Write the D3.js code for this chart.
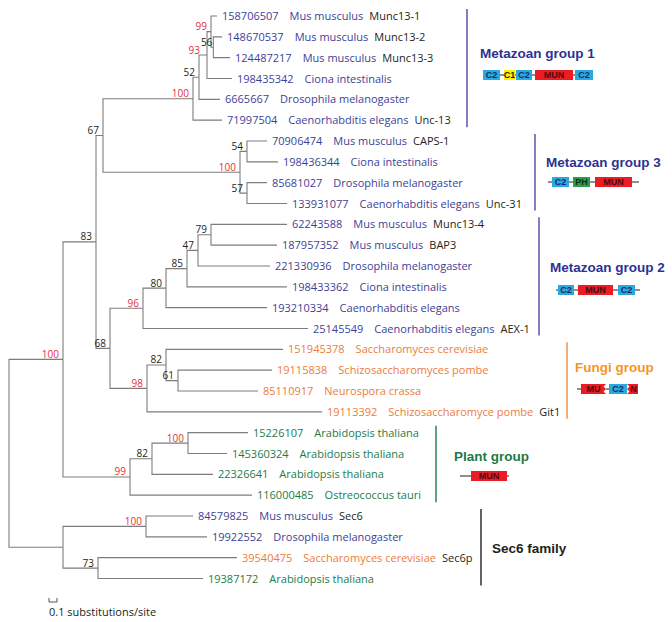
<!DOCTYPE html>
<html><head><meta charset="utf-8">
<script src="https://cdn.jsdelivr.net/npm/d3@7"></script>
<style>body{margin:0;background:#fff} svg{display:block}</style>
</head><body><svg id="chart" width="672" height="622"></svg>
<script>
// ---------------- data ----------------
// internal nodes: id, parent, branch length (substitutions/site), bootstrap support
const internalIds     = ["root","A","S","B","P1","C","D","G1","n52","n93","n99","n56","G3","n54","n57","n96","n80","n85","n47","n79","n98","n82f","n61","n82p","n100p","n100s","n73"];
const internalParents = [null,"root","root","A","A","B","B","C","G1","n52","n93","n99","C","G3","G3","D","n96","n80","n85","n47","D","n98","n82f","P1","n82p","S","S"];
const internalLengths = [0,0.675,0.675,0.4125,0.8375,0.0875,0.175,1.125,0.075,0.1,0.05,0.029,1.7125,0.0875,0.0875,0.4125,0.2875,0.2625,0.1375,0.1625,0.4625,0.2375,0.15,0.275,0.45,1.0375,0.4375];
const internalSupport = [null,100,null,83,99,67,68,100,52,93,99,56,100,54,57,96,80,85,47,79,98,82,61,82,100,100,73];

// leaves (top to bottom)
const leafIds = ["158706507","148670537","124487217","198435342","6665667","71997504","70906474","198436344","85681027","133931077","62243588","187957352","221330936","198433362","193210334","25145549","151945378","19115838","85110917","19113392","15226107","145360324","22326641","116000485","84579825","19922552","39540475","19387172"];
const leafParents = ["n99","n56","n56","n93","n52","G1","n54","n54","n57","n57","n79","n79","n47","n85","n80","n96","n82f","n61","n61","n98","n100p","n100p","n82p","P1","n100s","n100s","n73","n73"];
const leafLengths = [0.075,0.109,0.209,0.3125,0.2625,0.3625,0.25,0.3875,0.25,0.5,0.95,0.825,0.9,1.25,1.2625,2.0625,1.4625,1.175,1.0,2.1875,0.75,0.4875,0.7625,1.525,0.5875,0.7625,1.7375,1.3125];
const leafSpecies = ["Mus musculus","Mus musculus","Mus musculus","Ciona intestinalis","Drosophila melanogaster","Caenorhabditis elegans","Mus musculus","Ciona intestinalis","Drosophila melanogaster","Caenorhabditis elegans","Mus musculus","Mus musculus","Drosophila melanogaster","Ciona intestinalis","Caenorhabditis elegans","Caenorhabditis elegans","Saccharomyces cerevisiae","Schizosaccharomyces pombe","Neurospora crassa","Schizosaccharomyce pombe","Arabidopsis thaliana","Arabidopsis thaliana","Arabidopsis thaliana","Ostreococcus tauri","Mus musculus","Drosophila melanogaster","Saccharomyces cerevisiae","Arabidopsis thaliana"];
const leafGenes = ["Munc13-1","Munc13-2","Munc13-3","","","Unc-13","CAPS-1","","","Unc-31","Munc13-4","BAP3","","","","AEX-1","","","","Git1","","","","","Sec6","","Sec6p",""];
const leafKingdom = ["M","M","M","M","M","M","M","M","M","M","M","M","M","M","M","M","F","F","F","F","P","P","P","P","M","M","F","P"];

// groups (bracket over leaf ranges)
const groupNames = ["Metazoan group 1","Metazoan group 3","Metazoan group 2","Fungi group","Plant group","Sec6 family"];
const groupFirstLeaf = [0,6,10,16,20,24];
const groupLastLeaf  = [5,9,15,19,23,27];
// domain architecture: [domain, length]; "-" = linker
const groupDomains = [
  [["C2",17],["-",4],["C1",11],["-",1],["C2",16],["-",3],["MUN",38],["-",2],["C2",18]],
  [["-",4],["C2",17],["-",4],["PH",17],["-",5],["MUN",37],["-",7]],
  [["-",2],["C2",16],["-",4],["MUN",35],["-",5],["C2",17],["-",5]],
  [["-",4],["MU",25],["-",3],["C2",18],["N",11]],
  [["-",11],["MUN",36],["-",2]],
  []
];
const scaleBarValue = 0.1;
const scaleBarLabel = "0.1 substitutions/site";

// ---------------- layout / style ----------------
const kingdomColor = {M:"#3d3f97", F:"#ee7b3c", P:"#1e7b4a"};
const groupStyle = [
  {bar:"#4b4ba6", title:"#2e3192", barX:467, titleX:480, titleY:58, domX:483, domY:75},
  {bar:"#4b4ba6", title:"#2e3192", barX:535, titleX:546, titleY:167, domX:548, domY:182},
  {bar:"#4b4ba6", title:"#2e3192", barX:539, titleX:550, titleY:272, domX:556, domY:290},
  {bar:"#ef8a3e", title:"#f7941d", barX:567, titleX:575, titleY:372, domX:577, domY:389},
  {bar:"#1e7b4a", title:"#1a7a45", barX:436, titleX:454, titleY:461, domX:460, domY:476},
  {bar:"#231f20", title:"#231f20", barX:481, titleX:492, titleY:553, domX:0, domY:0}
];
const labelNudge = {n93:-3, n56:3};
const domainFill = {C2:"#2aa9e0", C1:"#fff200", MUN:"#ec1c24", PH:"#2f9d48", MU:"#ec1c24", N:"#ec1c24"};
const domainText = {C2:"#1d2a5c", C1:"#231f20", MUN:"#4a0c10", PH:"#10301a", MU:"#4a0c10", N:"#4a0c10"};

const svg = d3.select("#chart");
const x = d3.scaleLinear().domain([0,1]).range([9,89]);
const y = d3.scaleLinear().domain([0, leafIds.length-1]).range([16, 578.5]);

const rows = internalIds.map((id,i)=>({id, parent:internalParents[i], len:internalLengths[i], support:internalSupport[i]}))
  .concat(leafIds.map((id,i)=>({id, parent:leafParents[i], len:leafLengths[i], leaf:i})));
const root = d3.stratify().id(d=>d.id).parentId(d=>d.parent)(rows);
root.eachBefore(n=>{ n.dist = n.parent ? n.parent.dist + n.data.len : 0; });
root.eachAfter(n=>{ n.yy = n.children ? d3.mean(n.children, c=>c.yy) : y(n.data.leaf); });

// branches
svg.append("g").attr("fill","none").attr("stroke","#7d7d7d").attr("stroke-width",1.1)
  .selectAll("path").data(root.descendants().filter(n=>n.parent)).join("path")
  .attr("d", n=>`M${x(n.parent.dist)},${n.parent.yy}V${n.yy}H${x(n.dist)}`);

// support values
svg.append("g").attr("font-family","'Open Sans', sans-serif").attr("font-size",10).attr("text-anchor","end")
  .selectAll("text").data(root.descendants().filter(n=>n.children && n.data.support!=null)).join("text")
  .attr("x", n=>x(n.dist)-4+(labelNudge[n.id]||0)).attr("y", n=>n.yy-1.5)
  .attr("fill", n=>n.data.support>=90 ? "#e2303a" : "#231f20")
  .text(n=>n.data.support);

// leaf labels
const lab = svg.append("g").attr("font-family","'Open Sans', sans-serif").attr("font-size",11)
  .selectAll("text").data(root.leaves()).join("text")
  .attr("x", n=>x(n.dist)+5).attr("y", n=>n.yy+4);
lab.append("tspan").attr("fill", n=>kingdomColor[leafKingdom[n.data.leaf]]).text(n=>n.data.id);
lab.append("tspan").attr("dx",11).attr("fill", n=>kingdomColor[leafKingdom[n.data.leaf]]).text(n=>leafSpecies[n.data.leaf]);
lab.filter(n=>leafGenes[n.data.leaf]).append("tspan").attr("dx",6).attr("fill","#231f20").text(n=>leafGenes[n.data.leaf]);

// groups
const dw = d3.scaleLinear().domain([0,1]).range([0,1]);
groupNames.forEach((name,gi)=>{
  const st = groupStyle[gi];
  const g = svg.append("g");
  g.append("line").attr("x1",st.barX).attr("x2",st.barX)
    .attr("y1", y(groupFirstLeaf[gi])-7).attr("y2", y(groupLastLeaf[gi])+7)
    .attr("stroke", st.bar).attr("stroke-width",1.4);
  g.append("text").attr("x",st.titleX).attr("y",st.titleY)
    .attr("font-family","'Liberation Sans', Arial, sans-serif").attr("font-weight","bold").attr("font-size",13.5)
    .attr("fill",st.title).text(name);
  let cx = st.domX; const cy = st.domY, h = 10;
  groupDomains[gi].forEach(([t,len])=>{
    const w = dw(len);
    if (t==="-") {
      g.append("line").attr("x1",cx).attr("x2",cx+w).attr("y1",cy).attr("y2",cy).attr("stroke","#231f20").attr("stroke-width",1);
    } else {
      const x0=cx, x1=cx+w, y0=cy-h/2, y1=cy+h/2;
      let d;
      if (t==="MU") d=`M${x0},${y0}H${x1}L${x1-2.5},${y0+2.5}L${x1},${cy}L${x1-2.5},${y1-2.5}L${x1},${y1}H${x0}Z`;
      else if (t==="N") d=`M${x0},${y0}H${x1}V${y1}H${x0}L${x0+2.5},${y1-2.5}L${x0},${cy}L${x0+2.5},${y0+2.5}Z`;
      else d=`M${x0},${y0}H${x1}V${y1}H${x0}Z`;
      g.append("path").attr("d",d).attr("fill",domainFill[t]);
      g.append("text").attr("x",(x0+x1)/2 + (t==="N"?1:0)).attr("y",cy+3.2).attr("text-anchor","middle")
        .attr("font-family","'Liberation Sans', Arial, sans-serif").attr("font-weight","bold").attr("font-size",9)
        .attr("fill",domainText[t]).text(t);
    }
    cx += w;
  });
});

// scale bar
const sb0 = 49, sb1 = sb0 + (x(scaleBarValue)-x(0));
svg.append("path").attr("d",`M${sb0},598V602H${sb1}V598`).attr("fill","none").attr("stroke","#555").attr("stroke-width",1);
svg.append("text").attr("x",49).attr("y",616).attr("font-family","'Open Sans', sans-serif").attr("font-size",11)
  .attr("fill","#231f20").text(scaleBarLabel);
</script></body></html>
